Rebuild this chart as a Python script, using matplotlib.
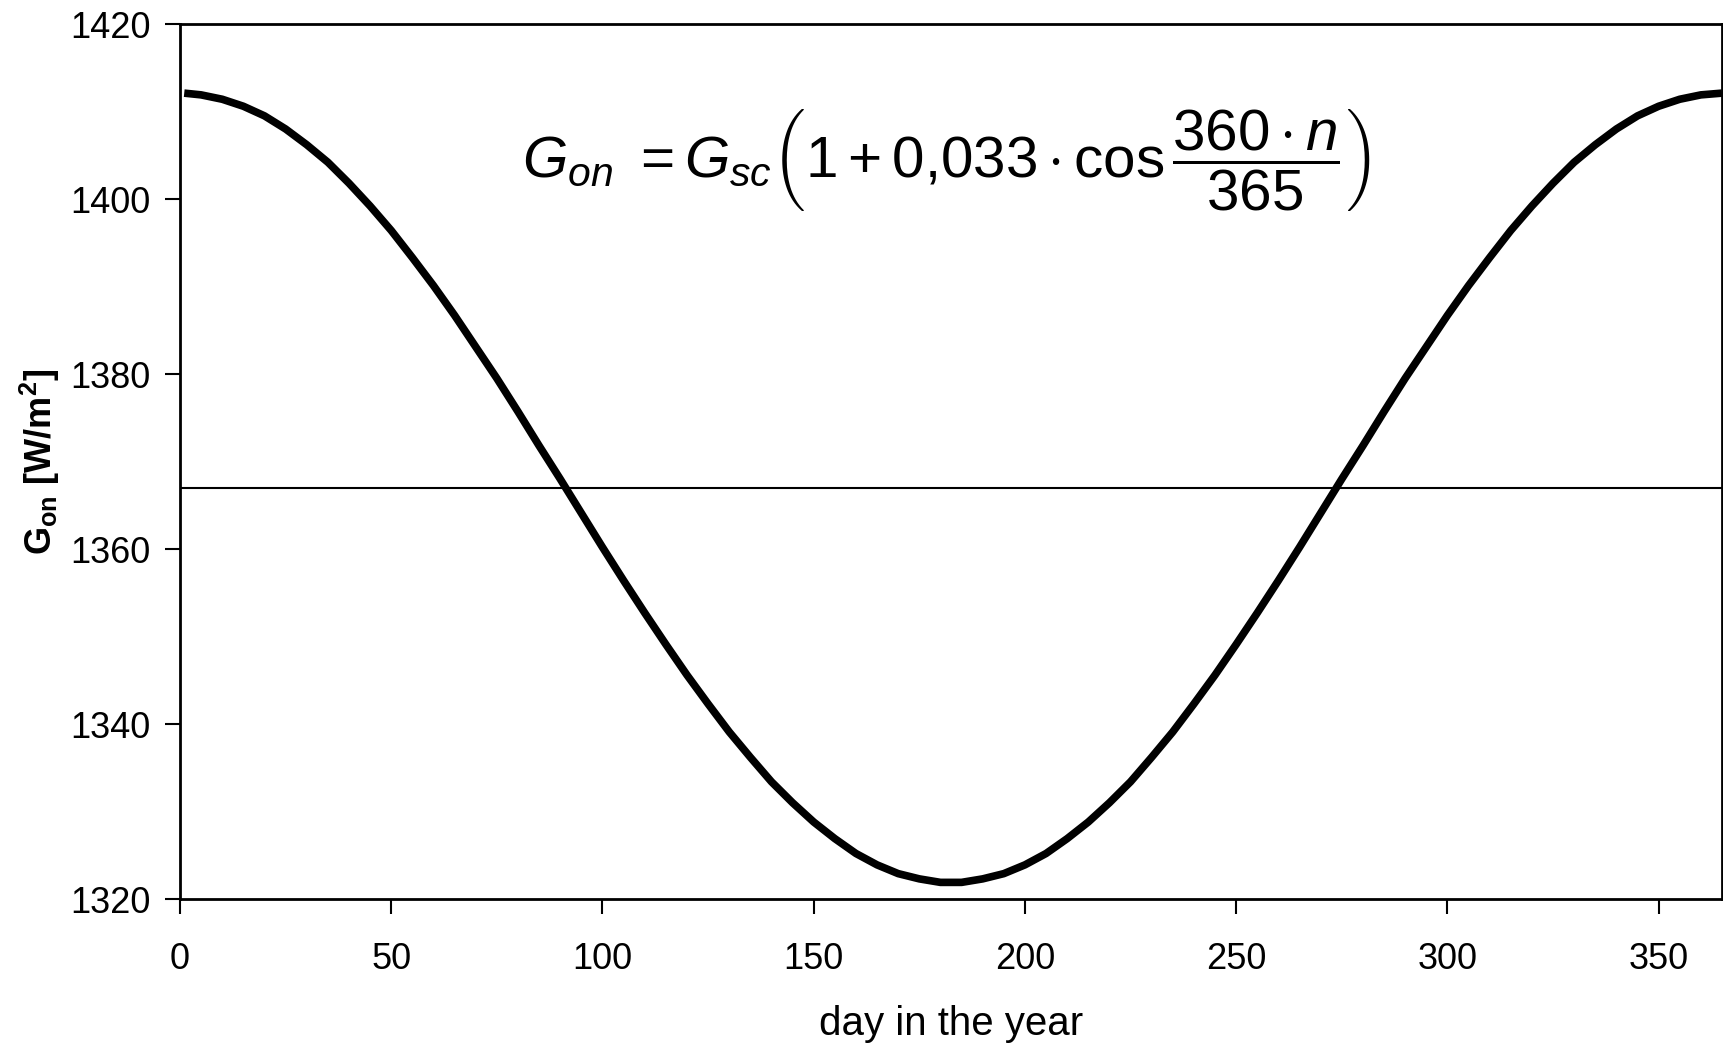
import matplotlib
matplotlib.use('Agg')
import matplotlib.pyplot as plt

plt.rcParams['font.family'] = ['Liberation Sans', 'DejaVu Sans']
plt.rcParams['mathtext.fontset'] = 'custom'
plt.rcParams['mathtext.rm'] = 'Liberation Sans'
plt.rcParams['mathtext.it'] = 'Liberation Sans:italic'
plt.rcParams['mathtext.bf'] = 'Liberation Sans:bold'

# day of year and extraterrestrial radiation
days = [1, 5, 10, 15, 20, 25, 30, 35, 40, 45, 50, 55, 60, 65, 70, 75, 80, 85,
        90, 95, 100, 105, 110, 115, 120, 125, 130, 135, 140, 145, 150, 155,
        160, 165, 170, 175, 180, 185, 190, 195, 200, 205, 210, 215, 220, 225,
        230, 235, 240, 245, 250, 255, 260, 265, 270, 275, 280, 285, 290, 295,
        300, 305, 310, 315, 320, 325, 330, 335, 340, 345, 350, 355, 360, 365]
g_on = [1412.1, 1411.9, 1411.4, 1410.6, 1409.5, 1408.0, 1406.2, 1404.2,
        1401.8, 1399.2, 1396.4, 1393.3, 1390.1, 1386.7, 1383.1, 1379.5,
        1375.7, 1371.8, 1368.0, 1364.1, 1360.2, 1356.4, 1352.7, 1349.1,
        1345.6, 1342.3, 1339.1, 1336.2, 1333.4, 1331.0, 1328.8, 1326.9,
        1325.2, 1323.9, 1322.9, 1322.3, 1321.9, 1321.9, 1322.3, 1322.9,
        1323.9, 1325.2, 1326.9, 1328.8, 1331.0, 1333.4, 1336.2, 1339.1,
        1342.3, 1345.6, 1349.1, 1352.7, 1356.4, 1360.2, 1364.1, 1368.0,
        1371.8, 1375.7, 1379.5, 1383.1, 1386.7, 1390.1, 1393.3, 1396.4,
        1399.2, 1401.8, 1404.2, 1406.2, 1408.0, 1409.5, 1410.6, 1411.4,
        1411.9, 1412.1]
G_SC = 1367      # solar constant, W/m2

x_ticks = [0, 50, 100, 150, 200, 250, 300, 350]
y_ticks = [1320, 1340, 1360, 1380, 1400, 1420]

fig = plt.figure(figsize=(17.24, 10.48), dpi=100)
ax = fig.add_axes([180/1724, 1 - 899/1048, (1722-180)/1724, (899-24)/1048])

ax.axhline(G_SC, color='black', lw=1.5)
ax.plot(days, g_on, color='black', lw=5.5, solid_capstyle='butt')

ax.set_xlim(0, 365)
ax.set_ylim(1320, 1420)
ax.set_xticks(x_ticks)
ax.set_yticks(y_ticks)
ax.tick_params(direction='out', length=11, width=1.5, labelsize=26,
               top=False, right=False)
ax.tick_params(axis='x', pad=20)
ax.tick_params(axis='y', pad=10)
for s in ax.spines.values():
    s.set_linewidth(2)

ax.set_xlabel('day in the year', fontsize=29, labelpad=20)
ax.set_ylabel(r'$\mathbf{G}_{\mathbf{on}}$ [W/m$^{\mathbf{2}}$]',
              fontsize=26, fontweight='bold', labelpad=6)

ax.text(0.497, 0.843,
        r'$G_{on}\ = G_{sc}\left(1 + 0{,}033\cdot\cos\dfrac{360\cdot n}{365}\right)$',
        transform=ax.transAxes, ha='center', va='center', fontsize=42)

fig.savefig('out.png', dpi=100)
